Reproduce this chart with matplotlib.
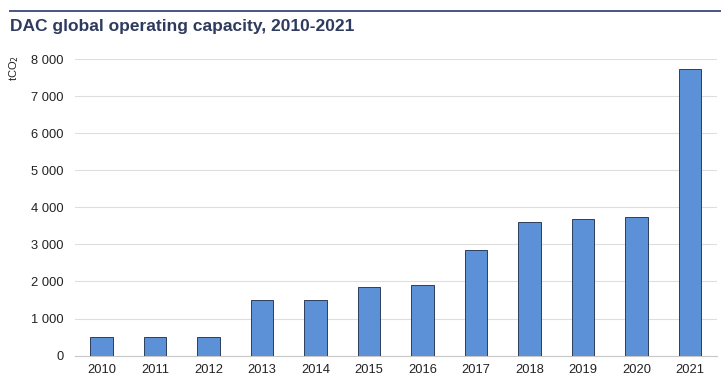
import matplotlib
matplotlib.use("Agg")
import matplotlib.pyplot as plt
from matplotlib.lines import Line2D

# DAC global operating capacity (tCO2)
years = ["2010", "2011", "2012", "2013", "2014", "2015",
         "2016", "2017", "2018", "2019", "2020", "2021"]
capacity = [500, 500, 500, 1490, 1490, 1860, 1910, 2860, 3610, 3680, 3730, 7740]
yticks = [0, 1000, 2000, 3000, 4000, 5000, 6000, 7000, 8000]

plt.rcParams['font.family'] = ['Liberation Sans', 'DejaVu Sans']

fig = plt.figure(figsize=(7.21, 3.87), dpi=100)
ax = fig.add_axes([0.104, 0.081, 0.89, 0.7665])

x = range(len(years))
ax.bar(x, capacity, width=0.42, color='#5c91d7', edgecolor='#2c3e5c', linewidth=0.7, zorder=3)

ax.set_xlim(-0.5, len(years) - 0.5)
ax.set_ylim(0, 8000)
ax.set_xticks(list(x))
ax.set_xticklabels(years)
ax.set_yticks(yticks)
ax.set_yticklabels([f"{v:,}".replace(",", " ") for v in yticks])
ax.tick_params(length=0, labelsize=9.3, colors='#222222')
ax.tick_params(axis='x', pad=6)
ax.tick_params(axis='y', pad=8)
ax.grid(axis='y', color='#dedede', linewidth=0.8, zorder=0)
for s in ['top', 'right', 'left']:
    ax.spines[s].set_visible(False)
ax.spines['bottom'].set_color('#c8c8c8')
ax.spines['bottom'].set_linewidth(0.8)

fig.add_artist(Line2D([10 / 721, 1.0], [1 - 11 / 387, 1 - 11 / 387],
                      color='#4a5680', linewidth=1.4))
fig.text(10 / 721, 1 - 27 / 387, "DAC global operating capacity, 2010-2021",
         fontsize=12.5, fontweight='bold', color='#2e3a5e', va='center', ha='left')
fig.text(14 / 721, 1 - 68 / 387, "tCO$_2$", rotation=90, fontsize=8,
         color='#222222', va='center', ha='center')

fig.savefig("out.png", dpi=100)
